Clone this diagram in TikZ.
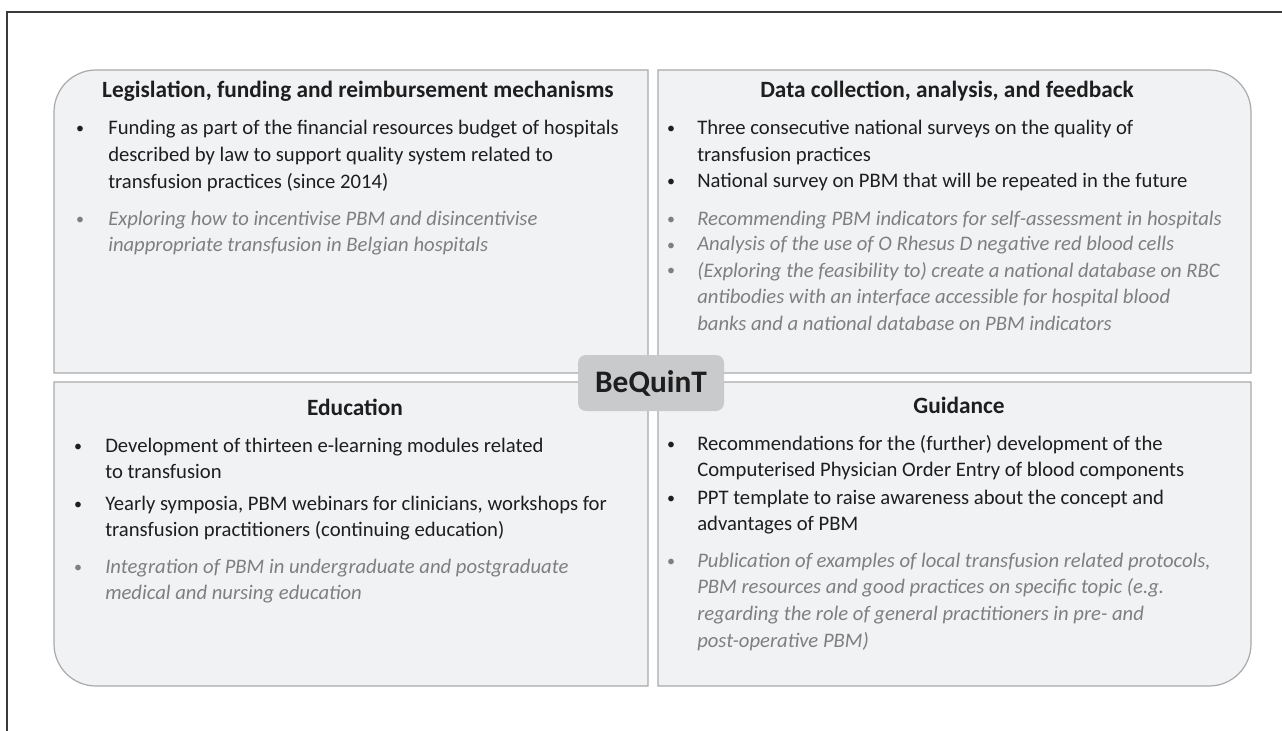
\documentclass[tikz,border=0pt]{standalone}
\usepackage{fontspec}
\setmainfont{Carlito}
\definecolor{ink}{HTML}{1E1E1E}
\definecolor{muted}{HTML}{7F7F7F}
\definecolor{panelfill}{HTML}{F1F2F4}
\definecolor{panelline}{HTML}{A9A9AB}
\definecolor{hubfill}{HTML}{C9CACC}
\definecolor{framec}{HTML}{3A3A3A}
\newcommand{\bodyfont}{\fontsize{15.5}{20}\selectfont}
\newcommand{\lines}[1]{\parbox[t]{450pt}{\raggedright #1}}
\tikzset{
  panel/.style={draw=panelline, fill=panelfill, line width=0.9pt},
  heading/.style={font=\fontsize{17.5}{21}\selectfont\bfseries, text=ink, inner sep=0pt, anchor=base},
  done/.style={font=\bodyfont, text=ink, inner sep=0pt, anchor=base west},
  planned/.style={font=\bodyfont\itshape, text=muted, inner sep=0pt, anchor=base west},
  dot/.style={font=\fontsize{12}{14}\selectfont, text=ink, inner sep=0pt, anchor=base},
  mdot/.style={dot, text=muted},
  hub/.style={draw=none, fill=hubfill, rounded corners=6pt, minimum width=109.5pt,
    minimum height=42pt, inner sep=0pt, text=ink, font=\fontsize{23.5}{28}\selectfont\bfseries}
}
\begin{document}
\begin{tikzpicture}[x=0.75pt,y=-0.75pt]
\useasboundingbox (0,0) rectangle (1282,731);
% outer frame (top and left rules)
\draw[framec, line width=1.2pt] (7,731) -- (7,12) -- (1282,12);

% four panels, each with one rounded outer corner
\draw[panel] (648,373) -- (54,373) -- (54,112)
  arc[start angle=180, end angle=90, radius=31.5pt] -- (648,70) -- cycle;
\draw[panel] (658,373) -- (658,70) -- (1209,70)
  arc[start angle=90, end angle=0, radius=31.5pt] -- (1251,373) -- cycle;
\draw[panel] (648,382) -- (54,382) -- (54,644)
  arc[start angle=180, end angle=270, radius=31.5pt] -- (648,686) -- cycle;
\draw[panel] (658,382) -- (1251,382) -- (1251,644)
  arc[start angle=0, end angle=-90, radius=31.5pt] -- (658,686) -- cycle;

% top left panel
\node[heading] (tlTitle) at (358,98) {Legislation, funding and reimbursement mechanisms};
\node[dot] (tlAb) at (80,134) {•};
\node[done] (tlA) at (108,135) {\lines{Funding as part of the financial resources budget of hospitals\\
  described by law to support quality system related to\\ transfusion practices (since 2014)}};
\node[mdot] (tlBb) at (80,224) {•};
\node[planned] (tlB) at (108,225) {\lines{Exploring how to incentivise PBM and disincentivise\\
  inappropriate transfusion in Belgian hospitals}};

% top right panel
\node[heading] (trTitle) at (947,98) {Data collection, analysis, and feedback};
\node[dot] (trAb) at (671,134) {•};
\node[done] (trA) at (697,135) {\lines{Three consecutive national surveys on the quality of\\ transfusion practices}};
\node[dot] (trBb) at (671,187) {•};
\node[done] (trB) at (697,188) {National survey on PBM that will be repeated in the future};
\node[mdot] (trCb) at (671,224) {•};
\node[planned] (trC) at (697,225) {Recommending PBM indicators for self-assessment in hospitals};
\node[mdot] (trDb) at (671,250) {•};
\node[planned] (trD) at (697,251) {Analysis of the use of O Rhesus D negative red blood cells};
\node[mdot] (trEb) at (671,276) {•};
\node[planned] (trE) at (697,277) {\lines{(Exploring the feasibility to) create a national database on RBC\\
  antibodies with an interface accessible for hospital blood\\
  banks and a national database on PBM indicators}};

% bottom left panel
\node[heading] (blTitle) at (355,415) {Education};
\node[dot] (blAb) at (78,451) {•};
\node[done] (blA) at (105,452) {\lines{Development of thirteen e-learning modules related\\ to transfusion}};
\node[dot] (blBb) at (78,509) {•};
\node[done] (blB) at (105,510) {\lines{Yearly symposia, PBM webinars for clinicians, workshops for\\
  transfusion practitioners (continuing education)}};
\node[mdot] (blCb) at (78,572) {•};
\node[planned] (blC) at (105,573) {\lines{Integration of PBM in undergraduate and postgraduate\\
  medical and nursing education}};

% bottom right panel
\node[heading] (brTitle) at (959,413) {Guidance};
\node[dot] (brAb) at (671,449) {•};
\node[done] (brA) at (697,450) {\lines{Recommendations for the (further) development of the\\
  Computerised Physician Order Entry of blood components}};
\node[dot] (brBb) at (671,503) {•};
\node[done] (brB) at (697,504) {\lines{PPT template to raise awareness about the concept and\\ advantages of PBM}};
\node[mdot] (brCb) at (671,566) {•};
\node[planned] (brC) at (697,567) {\lines{Publication of examples of local transfusion related protocols,\\
  PBM resources and good practices on specific topic (e.g.\\
  regarding the role of general practitioners in pre- and\\
  post-operative PBM)}};

% central label
\node[hub] (hub) at (651,383) {BeQuinT};
\end{tikzpicture}
\end{document}
